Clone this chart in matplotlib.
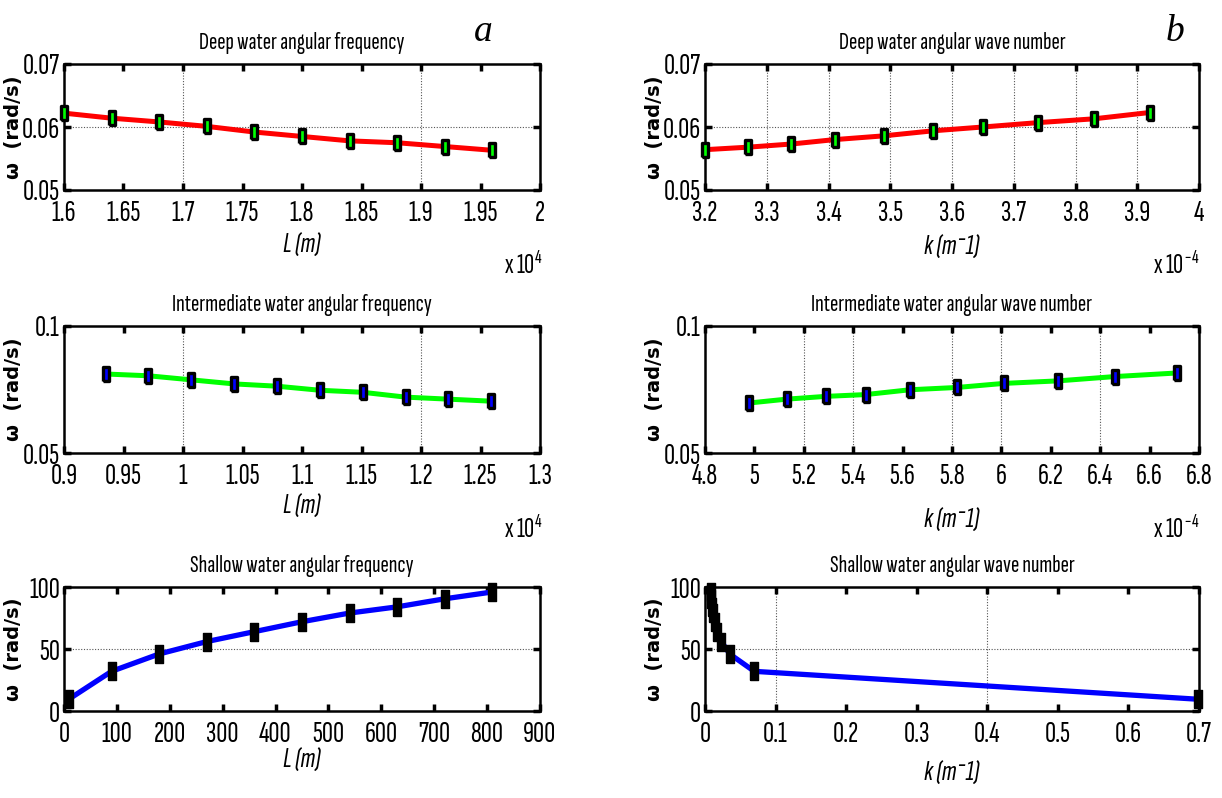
import matplotlib
matplotlib.use('Agg')
import matplotlib.pyplot as plt
import logging
logging.getLogger('matplotlib.font_manager').setLevel(logging.ERROR)

# ---------------- data ----------------
deep_L = [1.60, 1.64, 1.68, 1.72, 1.76, 1.80, 1.84, 1.88, 1.92, 1.96]          # x 10^4 m
deep_omega_L = [0.0622, 0.0614, 0.0608, 0.0601, 0.0592, 0.0585, 0.0578, 0.0575, 0.0569, 0.0563]
deep_k = [3.20, 3.27, 3.34, 3.41, 3.49, 3.57, 3.65, 3.74, 3.83, 3.92]          # x 10^-4 1/m
deep_omega_k = [0.0564, 0.0568, 0.0573, 0.0580, 0.0586, 0.0594, 0.0600, 0.0607, 0.0613, 0.0623]

inter_L = [0.935, 0.971, 1.007, 1.043, 1.079, 1.115, 1.151, 1.187, 1.223, 1.259]  # x 10^4 m
inter_omega_L = [0.0811, 0.0804, 0.0788, 0.0772, 0.0763, 0.0747, 0.0739, 0.0720, 0.0712, 0.0704]
inter_k = [4.98, 5.13, 5.29, 5.45, 5.63, 5.82, 6.01, 6.23, 6.46, 6.71]          # x 10^-4 1/m
inter_omega_k = [0.0697, 0.0712, 0.0723, 0.0730, 0.0749, 0.0758, 0.0774, 0.0784, 0.0801, 0.0815]

shallow_L = [9, 90, 180, 270, 360, 450, 540, 630, 720, 810]
shallow_omega_L = [9.5, 32, 46, 56, 64, 72, 79, 84, 90.5, 96]
shallow_k = [0.698, 0.0698, 0.0349, 0.0233, 0.0175, 0.0140, 0.0116, 0.0100, 0.0087, 0.0078]
shallow_omega_k = [9.5, 32, 46, 56, 64, 72, 79, 84, 90.5, 96]

titles = ["Deep water angular frequency", "Deep water angular wave number",
          "Intermediate water angular frequency", "Intermediate water angular wave number",
          "Shallow water angular frequency", "Shallow water angular wave number"]

xticks_a = [1.6, 1.65, 1.7, 1.75, 1.8, 1.85, 1.9, 1.95, 2.0]
xticklabels_a = ["1.6", "1.65", "1.7", "1.75", "1.8", "1.85", "1.9", "1.95", "2"]
xticks_b = [3.2, 3.3, 3.4, 3.5, 3.6, 3.7, 3.8, 3.9, 4.0]
xticklabels_b = ["3.2", "3.3", "3.4", "3.5", "3.6", "3.7", "3.8", "3.9", "4"]
xticks_c = [0.9, 0.95, 1.0, 1.05, 1.1, 1.15, 1.2, 1.25, 1.3]
xticklabels_c = ["0.9", "0.95", "1", "1.05", "1.1", "1.15", "1.2", "1.25", "1.3"]
xticks_d = [4.8, 5.0, 5.2, 5.4, 5.6, 5.8, 6.0, 6.2, 6.4, 6.6, 6.8]
xticklabels_d = ["4.8", "5", "5.2", "5.4", "5.6", "5.8", "6", "6.2", "6.4", "6.6", "6.8"]
xticks_e = [0, 100, 200, 300, 400, 500, 600, 700, 800, 900]
xticklabels_e = ["0", "100", "200", "300", "400", "500", "600", "700", "800", "900"]
xticks_f = [0, 0.1, 0.2, 0.3, 0.4, 0.5, 0.6, 0.7]
xticklabels_f = ["0", "0.1", "0.2", "0.3", "0.4", "0.5", "0.6", "0.7"]

yticks_deep = [0.05, 0.06, 0.07]
yticklabels_deep = ["0.05", "0.06", "0.07"]
yticks_inter = [0.05, 0.1]
yticklabels_inter = ["0.05", "0.1"]
yticks_shallow = [0, 50, 100]
yticklabels_shallow = ["0", "50", "100"]

# ---------------- fonts ----------------
NARROW = ['Sofia Sans Extra Condensed', 'Fira Sans Extra Condensed', 'Barlow Condensed',
          'Liberation Sans', 'DejaVu Sans']
plt.rcParams['font.family'] = NARROW
plt.rcParams['mathtext.fontset'] = 'custom'
plt.rcParams['mathtext.rm'] = 'Sofia Sans Extra Condensed'
plt.rcParams['mathtext.it'] = 'Sofia Sans Extra Condensed:italic'

fig = plt.figure(figsize=(12.22, 7.98), dpi=100)

# axes rectangles (figure fractions)
L_left, L_w = 64 / 1222, 476 / 1222
R_left, R_w = 705 / 1222, 494 / 1222
rows = [(1 - 190 / 798, 126 / 798), (1 - 453 / 798, 127 / 798), (1 - 711 / 798, 124 / 798)]

rect_marker = [(-0.5, -1), (0.5, -1), (0.5, 1), (-0.5, 1), (-0.5, -1)]

panels = [
    dict(pos=(L_left, rows[0]), x=deep_L, y=deep_omega_L, lc='#ff0000', mfc='#00ff00',
         xt=xticks_a, xtl=xticklabels_a, xl=(1.6, 2.0), yt=yticks_deep, ytl=yticklabels_deep, yl=(0.05, 0.07),
         vgrid=[1.7, 1.9], hgrid=[0.06], xlabel='L (m)', xly=-0.44, off='x 10$^{4}$', offx=0.965, small=True),
    dict(pos=(R_left, rows[0]), x=deep_k, y=deep_omega_k, lc='#ff0000', mfc='#00ff00',
         xt=xticks_b, xtl=xticklabels_b, xl=(3.2, 4.0), yt=yticks_deep, ytl=yticklabels_deep, yl=(0.05, 0.07),
         vgrid=[3.3, 3.4, 3.5, 3.6, 3.7, 3.8, 3.9], hgrid=[0.06], xlabel='k (m\u207b1)', xly=-0.46,
         off='x 10$^{-4}$', offx=0.955, small=True),
    dict(pos=(L_left, rows[1]), x=inter_L, y=inter_omega_L, lc='#00ff00', mfc='#0000ff',
         xt=xticks_c, xtl=xticklabels_c, xl=(0.9, 1.3), yt=yticks_inter, ytl=yticklabels_inter, yl=(0.05, 0.1),
         vgrid=[1.0, 1.2], hgrid=[], xlabel='L (m)', xly=-0.42, off='x 10$^{4}$', offx=0.965, small=True),
    dict(pos=(R_left, rows[1]), x=inter_k, y=inter_omega_k, lc='#00ff00', mfc='#0000ff',
         xt=xticks_d, xtl=xticklabels_d, xl=(4.8, 6.8), yt=yticks_inter, ytl=yticklabels_inter, yl=(0.05, 0.1),
         vgrid=[5.2, 5.4, 5.8, 6.0, 6.4], hgrid=[], xlabel='k (m\u207b1)', xly=-0.53,
         off='x 10$^{-4}$', offx=0.955, small=True),
    dict(pos=(L_left, rows[2]), x=shallow_L, y=shallow_omega_L, lc='#0000ff', mfc='#000000',
         xt=xticks_e, xtl=xticklabels_e, xl=(0, 900), yt=yticks_shallow, ytl=yticklabels_shallow, yl=(0, 100),
         vgrid=[], hgrid=[50], xlabel='L (m)', xly=-0.40, off=None, offx=0, small=False),
    dict(pos=(R_left, rows[2]), x=shallow_k, y=shallow_omega_k, lc='#0000ff', mfc='#000000',
         xt=xticks_f, xtl=xticklabels_f, xl=(0, 0.7), yt=yticks_shallow, ytl=yticklabels_shallow, yl=(0, 100),
         vgrid=[0.1, 0.4], hgrid=[50], xlabel='k (m\u207b1)', xly=-0.51, off=None, offx=0, small=False),
]

for i, p in enumerate(panels):
    left, (bottom, height) = p['pos']
    w = L_w if left == L_left else R_w
    ax = fig.add_axes([left, bottom, w, height])
    for gx in p['vgrid']:
        ax.axvline(gx, color='#555555', lw=0.8, ls=(0, (1, 1.5)), zorder=1)
    for gy in p['hgrid']:
        ax.axhline(gy, color='#555555', lw=0.8, ls=(0, (1, 1.5)), zorder=1)
    if p['small']:
        ax.plot(p['x'], p['y'], color=p['lc'], lw=3.6, marker=rect_marker, ms=9.5,
                mfc=p['mfc'], mec='black', mew=2.4, zorder=3, clip_on=False)
    else:
        ax.plot(p['x'], p['y'], color=p['lc'], lw=3.8, marker=rect_marker, ms=12.5,
                mfc='black', mec='black', mew=1, zorder=3, clip_on=False)
    ax.set_xlim(*p['xl'])
    ax.set_ylim(*p['yl'])
    ax.set_xticks(p['xt'])
    ax.set_xticklabels(p['xtl'])
    ax.set_yticks(p['yt'])
    ax.set_yticklabels(p['ytl'])
    ax.tick_params(direction='in', length=5, width=2.5, top=True, right=True,
                   labelsize=22, colors='black')
    ax.tick_params(axis='x', pad=7)
    ax.tick_params(axis='y', pad=3)
    for s in ax.spines.values():
        s.set_linewidth(1.8)
        s.set_color('black')
    ax.set_title(titles[i], fontsize=18, pad=11)
    ax.text(0.5, p['xly'], p['xlabel'], transform=ax.transAxes, ha='center', va='center',
            fontsize=21, style='italic', family=NARROW)
    if p['off']:
        ax.text(p['offx'], -0.6, p['off'], transform=ax.transAxes, ha='center', va='center', fontsize=20)
    ylx = (14 - 64) / 476 if left == L_left else (655 - 705) / 494
    ax.text(ylx, 0.5, 'ω  (rad/s)', transform=ax.transAxes, rotation=90, ha='center', va='center',
            fontsize=14, fontweight='bold', family=['DejaVu Sans'])

fig.text(483 / 1222, 1 - 32 / 798, 'a', fontsize=27, style='italic', family=['Liberation Serif', 'DejaVu Serif'],
         ha='center', va='center')
fig.text(1175 / 1222, 1 - 32 / 798, 'b', fontsize=27, style='italic', family=['Liberation Serif', 'DejaVu Serif'],
         ha='center', va='center')

fig.savefig('out.png', dpi=100)
